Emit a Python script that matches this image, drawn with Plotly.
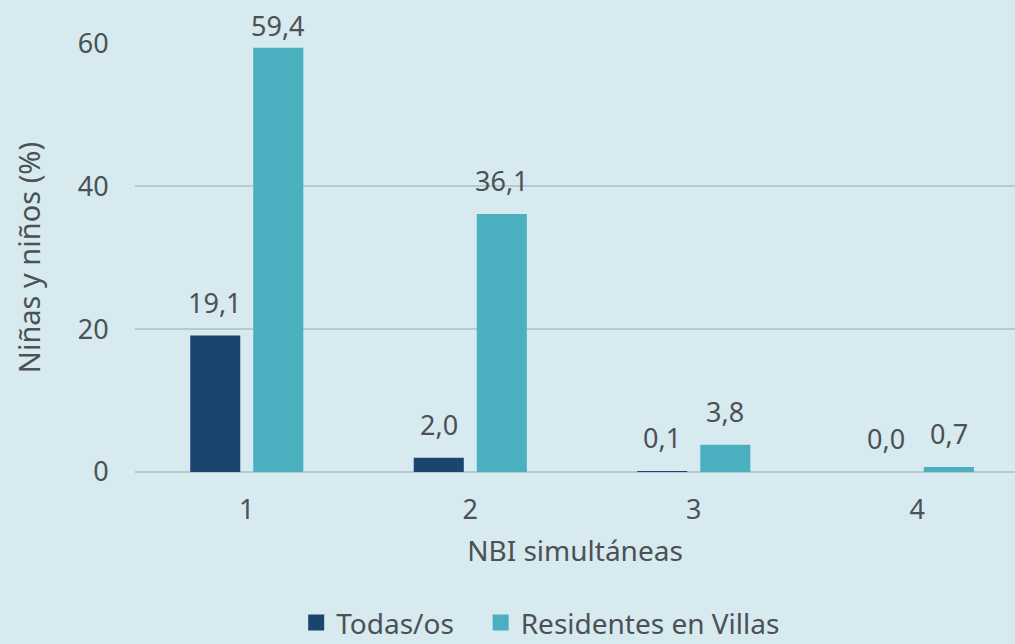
import plotly.graph_objects as go

categories = ["1", "2", "3", "4"]
todas = [19.1, 2.0, 0.1, 0.0]
villas = [59.4, 36.1, 3.8, 0.7]
series_names = ["Todas/os", "Residentes en Villas"]
y_ticks = [0, 20, 40, 60]

BG = "#d6eaf0"
C1 = "#19456f"
C2 = "#4aafbe"
TXT = "#4b5154"
GRID = "#b3ccd2"
FONT = "Noto Sans"

fig = go.Figure()
for name, vals, col in ((series_names[0], todas, C1), (series_names[1], villas, C2)):
    fig.add_trace(go.Bar(x=categories, y=vals, name=name, marker_color=col,
                         marker_line_width=0, showlegend=False))
# legend entries with larger square symbols (non-breaking spaces widen the gap)
for name, col, pad in ((series_names[0], C1, "\u00a0\u00a0\u00a0"), (series_names[1], C2, "")):
    fig.add_trace(go.Scatter(x=[None], y=[None], mode="markers", name=name + pad,
                             marker=dict(symbol="square", size=16, color=col)))

annotations = []
for vals, xs in ((todas, -31.5), (villas, 31.5)):
    for i, v in enumerate(vals):
        annotations.append(dict(
            x=i, y=v, xref="x", yref="y", text=f"{v:.1f}".replace(".", ","),
            showarrow=False, yanchor="bottom", xshift=xs,
            yshift=13 if v < 50 else 2,
            font=dict(family=FONT, size=27, color=TXT)))

fig.update_layout(
    width=1015, height=644,
    paper_bgcolor=BG, plot_bgcolor=BG,
    margin=dict(l=135, r=0, t=43, b=172, autoexpand=False),
    barmode="group", bargap=0.436, bargroupgap=0.206,
    font=dict(family=FONT, color=TXT, size=27),
    showlegend=True,
    legend=dict(orientation="h", x=0.461, xanchor="center", y=-0.41, yanchor="bottom",
                font=dict(family=FONT, size=28, color=TXT),
                traceorder="normal", bgcolor="rgba(0,0,0,0)"),
    annotations=annotations,
    separators=",.",
)
fig.update_xaxes(
    type="category", range=[-0.5, 3.437], showgrid=False, showline=False,
    ticks="outside", ticklen=14, tickcolor=BG,
    tickfont=dict(size=27, color=TXT),
    title=dict(text="NBI simultáneas", font=dict(size=28, color=TXT), standoff=14),
)
fig.update_yaxes(
    range=[0, 60.05], tickvals=y_ticks, showgrid=True, gridcolor=GRID, gridwidth=2,
    zeroline=True, zerolinecolor=GRID, zerolinewidth=2, showline=False,
    ticks="outside", ticklen=20, tickcolor=BG,
    tickfont=dict(size=27, color=TXT),
    title=dict(text="Niñas y niños (%)", font=dict(size=29, color=TXT), standoff=28),
)

fig.write_html("out.html", config={"displayModeBar": False},
               post_script="document.body.style.margin='0';document.body.style.overflow='hidden';")
